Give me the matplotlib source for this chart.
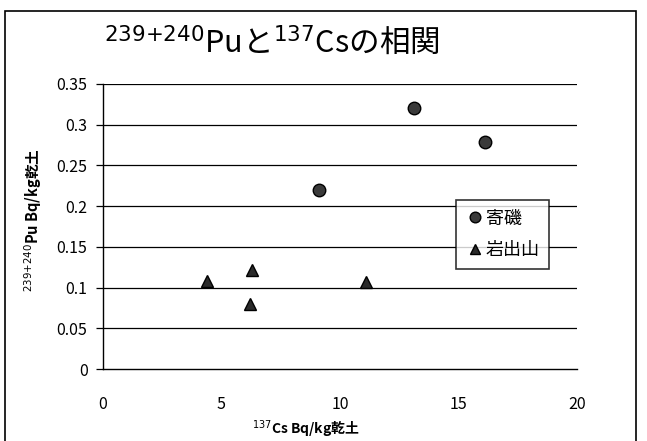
import matplotlib
matplotlib.use("Agg")
import matplotlib.pyplot as plt
import matplotlib.patches as mpatches

plt.rcParams["font.family"] = ["Noto Sans CJK JP", "DejaVu Sans"]
plt.rcParams["mathtext.fontset"] = "dejavusans"

# 寄磯 (circles)
yoriiso_cs = [9.1, 13.1, 16.1]
yoriiso_pu = [0.22, 0.32, 0.278]
# 岩出山 (triangles)
iwadeyama_cs = [4.4, 6.3, 6.2, 11.1]
iwadeyama_pu = [0.108, 0.122, 0.080, 0.107]

x_ticks = [0, 5, 10, 15, 20]
y_ticks = [0, 0.05, 0.1, 0.15, 0.2, 0.25, 0.3, 0.35]
y_tick_labels = ["0", "0.05", "0.1", "0.15", "0.2", "0.25", "0.3", "0.35"]

fig = plt.figure(figsize=(6.47, 4.41), dpi=100)
ax = fig.add_axes([0.159, 0.163, 0.733, 0.647])

# 外枠
fig.patches.append(mpatches.Rectangle(
    (0.008, -0.01), 0.975, 0.985, transform=fig.transFigure,
    fill=False, edgecolor="black", linewidth=1.2))

for y in y_ticks[1:]:
    ax.axhline(y, color="black", linewidth=0.9, zorder=1)

ax.plot(yoriiso_cs, yoriiso_pu, linestyle="none", marker="o", markersize=9,
        markerfacecolor="#3a3a3a", markeredgecolor="black", label="寄磯", zorder=3)
ax.plot(iwadeyama_cs, iwadeyama_pu, linestyle="none", marker="^", markersize=9,
        markerfacecolor="#2a2a2a", markeredgecolor="black", label="岩出山", zorder=3)

ax.set_xlim(0, 20)
ax.set_ylim(0, 0.35)
ax.set_xticks(x_ticks)
ax.set_yticks(y_ticks)
ax.set_yticklabels(y_tick_labels)
ax.tick_params(axis="y", direction="out", length=5, width=0.9, labelsize=11.5, pad=6)
ax.tick_params(axis="x", length=0, labelsize=11.5, pad=19)
for s in ["top", "right"]:
    ax.spines[s].set_visible(False)
ax.spines["left"].set_linewidth(1.0)
ax.spines["bottom"].set_linewidth(1.0)

fig.text(0.473, 0.027, r"$^{137}$Cs Bq/kg乾土", ha="center", va="center",
         fontsize=10, fontweight="bold")
fig.text(0.051, 0.5, r"$^{239{+}240}$Pu Bq/kg乾土", ha="center", va="center",
         rotation=90, fontsize=10.5, fontweight="bold")

fig.text(0.42, 0.905, r"$^{239{+}240}$Puと$^{137}$Csの相関", ha="center", va="center",
         fontsize=22)

leg = ax.legend(loc="upper left", bbox_to_anchor=(0.725, 0.625), fontsize=13,
                frameon=True, fancybox=False, handletextpad=0.1, handlelength=1.0,
                borderpad=0.55, labelspacing=0.75, markerscale=0.85)
leg.get_frame().set_edgecolor("black")
leg.get_frame().set_linewidth(1.2)

fig.savefig("out.png", dpi=100)
